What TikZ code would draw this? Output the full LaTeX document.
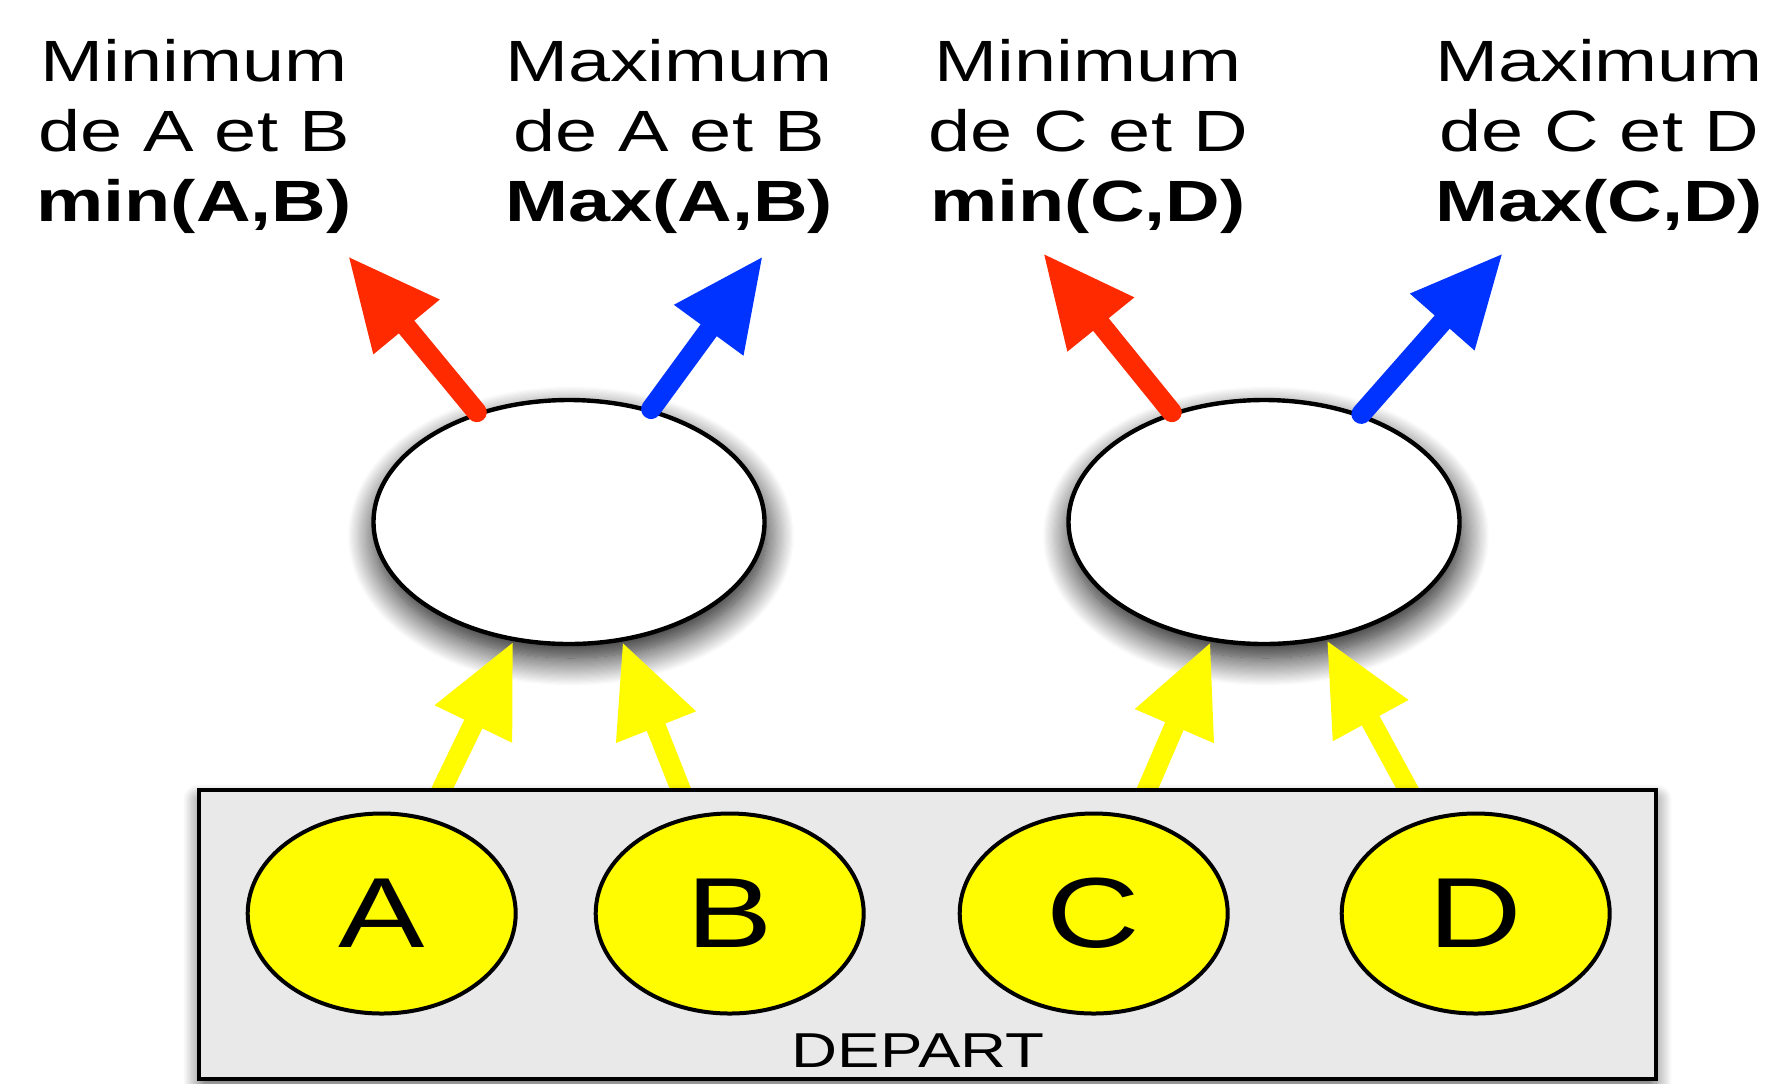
\documentclass[tikz,border=0pt]{standalone}
\usepackage{fontspec}
\setmainfont{Liberation Sans}[FakeStretch=1.3]
\usepackage{tikz}
\usetikzlibrary{arrows.meta,shapes,backgrounds,positioning,shadows.blur}

\definecolor{minred}{RGB}{255,42,0}
\definecolor{maxblue}{RGB}{0,51,255}
\definecolor{tokyellow}{RGB}{255,251,0}
\definecolor{boxgray}{RGB}{233,233,233}

\begin{document}
\begin{tikzpicture}[x=0.5pt,y=-0.5pt,>={Triangle[length=46pt,width=40pt]},
    comparator/.style={ellipse,draw,line width=2.2pt,fill=white,minimum width=195.5pt,minimum height=122pt,
      blur shadow={shadow xshift=1pt,shadow yshift=-7pt,shadow blur radius=14pt,shadow blur steps=25,shadow opacity=95}},
    token/.style={ellipse,draw,line width=2pt,fill=tokyellow,minimum width=134pt,minimum height=100pt,
      inner sep=0pt,font=\fontsize{49.8}{60}\selectfont},
    depart/.style={rectangle,draw,line width=2.2pt,fill=boxgray,minimum width=728.5pt,minimum height=144.5pt,
      inner sep=0pt,blur shadow={shadow xshift=0pt,shadow yshift=-5pt,shadow blur radius=8pt,shadow blur steps=20,shadow opacity=60}},
    heading/.style={align=center,anchor=base,font=\fontsize{29.1}{35}\selectfont},
    feed/.style={->,tokyellow,line width=10pt},
    lowout/.style={->,minred,line width=10pt,line cap=round},
    highout/.style={->,maxblue,line width=10pt,line cap=round}]
      \useasboundingbox (0,0) rectangle (1776,1083);

      \node[heading] (minab) at (194,221.7) {Minimum\\de A et B\\\textbf{min(A,B)}};
      \node[heading] (maxab) at (669,221.7) {Maximum\\de A et B\\\textbf{Max(A,B)}};
      \node[heading] (mincd) at (1088,221.7) {Minimum\\de C et D\\\textbf{min(C,D)}};
      \node[heading] (maxcd) at (1599,221.7) {Maximum\\de C et D\\\textbf{Max(C,D)}};

      \coordinate (tipminab) at (348,256);
      \coordinate (tipmaxab) at (763,256);
      \coordinate (tipmincd) at (1043,253);
      \coordinate (tipmaxcd) at (1503,253);

      \node[depart] (start) at (927.5,934.5) {};
      \node[token] (a) at (381.7,913.5) {A};
      \node[token] (b) [right=38pt of a] {B};
      \node[token] (c) [right=46pt of b] {C};
      \node[token] (d) [right=55pt of c] {D};
      \node[anchor=base,font=\fontsize{24.5}{30}\selectfont] (departlbl) at (918,1067) {DEPART};

      \begin{scope}[on background layer]
      \node[comparator] (cmp1) at (569,522) {};
      \node[comparator] (cmp2) at (1264,522) {};

      \path (cmp1.130) edge [lowout] (tipminab);
      \path (cmp1.54) edge [highout] (tipmaxab);
      \path (cmp2.130) edge [lowout] (tipmincd);
      \path (cmp2.48) edge [highout] (tipmaxcd);

      \path (a) edge [feed] (cmp1.245);
      \path (b) edge [feed] (cmp1.294);
      \path (c) edge [feed] (cmp2.246);
      \path (d) edge [feed] (cmp2.298);
      \end{scope}
    \end{tikzpicture}
\end{document}
